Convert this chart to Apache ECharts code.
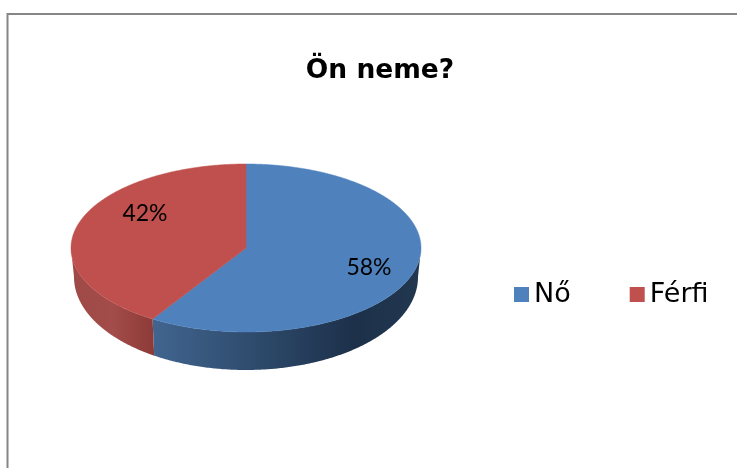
<!DOCTYPE html>
<html style="height: 100%">
<head>
	<meta charset="utf-8">
</head>
<body style="height: 100%; margin: 0; background: #fff">
<div id="container" style="width: 737px; height: 468px"></div>
<script src="https://cdn.jsdelivr.net/npm/echarts@6/dist/echarts.min.js"></script>
<script type="text/javascript">
	var chartTitle = 'Ön neme?';
	var categories = ['Nő', 'Férfi'];
	var values = [58, 42];

	var topColors = ['#4f81bd', '#c0504d'];
	var sideStops = [
		[[0, '#41658f'], [0.45, '#2b4666'], [0.75, '#1c304a'], [1, '#22384f']],
		[[0, '#9e4a47'], [0.5, '#a34c49'], [1, '#8c3a38']]
	];
	var labelPos = [[369, 268], [145, 214]];

	// pie geometry, the library has no tilted pie so it is projected by hand
	var cx = 246, cy = 248, rx = 175, ry = 84;
	// lower rim is a bit smaller, the pie is seen in perspective
	var lowerCy = 277, lowerRx = 172, lowerRy = 93;
	var perspective = 4.1;

	var total = values.reduce(function (a, b) { return a + b; }, 0);

	function rimPoint(deg, lower) {
		var t = (deg + perspective * Math.sin(2 * deg * Math.PI / 180)) * Math.PI / 180;
		if (lower) {
			return [cx + lowerRx * Math.sin(t), lowerCy - lowerRy * Math.cos(t)];
		}
		return [cx + rx * Math.sin(t), cy - ry * Math.cos(t)];
	}

	function arcPoints(from, to, lower) {
		var pts = [];
		var n = Math.max(2, Math.ceil(Math.abs(to - from) * 2));
		for (var i = 0; i <= n; i++) {
			pts.push(rimPoint(from + (to - from) * i / n, lower));
		}
		return pts;
	}

	function startAngle(index) {
		var sum = 0;
		for (var i = 0; i < index; i++) sum += values[i];
		return sum / total * 360;
	}

	function renderSlice(index) {
		return function (params, api) {
			var from = startAngle(index);
			var to = from + api.value(0) / total * 360;
			var children = [];

			// wall, only the front half of the rim (90..270) can be seen
			var a = Math.max(from, 90), b = Math.min(to, 270);
			if (b > a) {
				var upper = arcPoints(a, b, false);
				var lower = arcPoints(b, a, true);
				children.push({
					type: 'polygon',
					shape: { points: upper.concat(lower) },
					style: {
						fill: new echarts.graphic.LinearGradient(0, 0, 1, 0,
							sideStops[index].map(function (s) { return { offset: s[0], color: s[1] }; }))
					}
				});
			}

			// top face
			children.push({
				type: 'polygon',
				shape: { points: [[cx, cy]].concat(arcPoints(from, to, false)) },
				style: { fill: topColors[index], stroke: topColors[index], lineWidth: 0.5 }
			});

			children.push({
				type: 'text',
				z2: 10,
				style: {
					text: Math.round(api.value(0) / total * 100) + '%',
					x: labelPos[index][0],
					y: labelPos[index][1],
					align: 'center',
					verticalAlign: 'middle',
					fill: '#000',
					font: '23px Lato'
				}
			});
			return { type: 'group', children: children };
		};
	}

	var dom = document.getElementById('container');
	var myChart = echarts.init(dom);

	var option = {
		animation: false,
		backgroundColor: '#fff',
		title: {
			text: chartTitle,
			left: 375,
			textAlign: 'center',
			top: 53,
			textStyle: { fontFamily: 'DejaVu Sans', fontWeight: 'bold', fontSize: 26.5, color: '#000' }
		},
		legend: {
			data: categories,
			left: 509,
			top: 276,
			itemWidth: 15,
			itemHeight: 15,
			itemGap: 59,
			icon: 'rect',
			textStyle: { fontFamily: 'DejaVu Sans', fontSize: 27, color: '#000' }
		},
		graphic: [{
			type: 'rect',
			silent: true,
			shape: { x: 7.5, y: 14, width: 900, height: 700 },
			style: { fill: 'none', stroke: '#868686', lineWidth: 2 }
		}],
		series: categories.map(function (name, i) {
			return {
				name: name,
				type: 'custom',
				coordinateSystem: 'none',
				silent: true,
				itemStyle: { color: topColors[i] },
				renderItem: renderSlice(i),
				data: [[values[i]]]
			};
		})
	};

	myChart.setOption(option, true);
</script>
</body>
</html>
